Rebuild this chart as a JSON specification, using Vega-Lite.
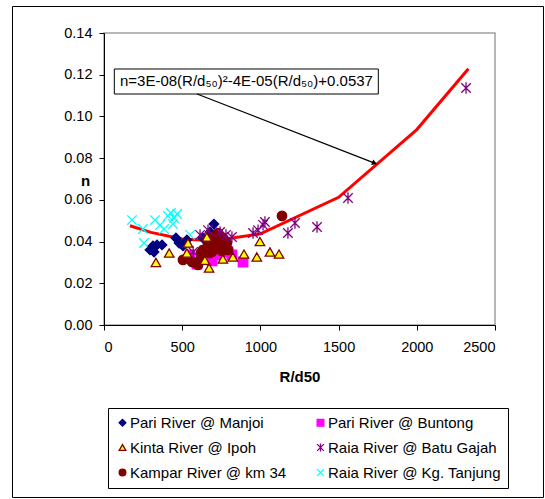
{
  "$schema": "https://vega.github.io/schema/vega-lite/v6.json",
  "width": 391,
  "height": 292,
  "autosize": {"type": "none"},
  "padding": {"left": 104, "top": 33, "right": 50, "bottom": 174},
  "background": "white",
  "config": {
    "font": "Liberation Sans",
    "view": {"stroke": "#a0a0a0", "strokeWidth": 1.5},
    "axis": {"grid": false, "domainColor": "black", "tickColor": "black", "labelColor": "black", "titleColor": "black", "labelFont": "Liberation Sans", "titleFont": "Liberation Sans", "labelFontSize": 14.5, "titleFontSize": 15, "titleFontWeight": "bold", "tickSize": 5}
  },
  "datasets": {
    "points": [
      {"series": "Raia River @ Kg. Tanjung", "R": 179, "n": 0.0503},
      {"series": "Raia River @ Kg. Tanjung", "R": 249, "n": 0.046},
      {"series": "Raia River @ Kg. Tanjung", "R": 256, "n": 0.0393},
      {"series": "Raia River @ Kg. Tanjung", "R": 326, "n": 0.0503},
      {"series": "Raia River @ Kg. Tanjung", "R": 358, "n": 0.0479},
      {"series": "Raia River @ Kg. Tanjung", "R": 384, "n": 0.046},
      {"series": "Raia River @ Kg. Tanjung", "R": 409, "n": 0.0523},
      {"series": "Raia River @ Kg. Tanjung", "R": 428, "n": 0.0537},
      {"series": "Raia River @ Kg. Tanjung", "R": 448, "n": 0.0513},
      {"series": "Raia River @ Kg. Tanjung", "R": 467, "n": 0.0532},
      {"series": "Raia River @ Kg. Tanjung", "R": 441, "n": 0.0484},
      {"series": "Raia River @ Kg. Tanjung", "R": 550, "n": 0.0432},
      {"series": "Pari River @ Manjoi", "R": 294, "n": 0.036},
      {"series": "Pari River @ Manjoi", "R": 313, "n": 0.0379},
      {"series": "Pari River @ Manjoi", "R": 339, "n": 0.0384},
      {"series": "Pari River @ Manjoi", "R": 371, "n": 0.0384},
      {"series": "Pari River @ Manjoi", "R": 320, "n": 0.035},
      {"series": "Pari River @ Manjoi", "R": 460, "n": 0.0417},
      {"series": "Pari River @ Manjoi", "R": 480, "n": 0.0393},
      {"series": "Pari River @ Manjoi", "R": 505, "n": 0.0379},
      {"series": "Pari River @ Manjoi", "R": 530, "n": 0.0408},
      {"series": "Pari River @ Manjoi", "R": 703, "n": 0.0484},
      {"series": "Pari River @ Manjoi", "R": 678, "n": 0.0446},
      {"series": "Pari River @ Manjoi", "R": 633, "n": 0.0417},
      {"series": "Pari River @ Buntong", "R": 595, "n": 0.0292},
      {"series": "Pari River @ Buntong", "R": 646, "n": 0.0321},
      {"series": "Pari River @ Buntong", "R": 691, "n": 0.0307},
      {"series": "Pari River @ Buntong", "R": 729, "n": 0.0336},
      {"series": "Pari River @ Buntong", "R": 793, "n": 0.035},
      {"series": "Pari River @ Buntong", "R": 818, "n": 0.0336},
      {"series": "Pari River @ Buntong", "R": 889, "n": 0.0302},
      {"series": "Pari River @ Buntong", "R": 550, "n": 0.0336},
      {"series": "Kampar River @ km 34", "R": 505, "n": 0.0312},
      {"series": "Kampar River @ km 34", "R": 563, "n": 0.0302},
      {"series": "Kampar River @ km 34", "R": 614, "n": 0.0312},
      {"series": "Kampar River @ km 34", "R": 601, "n": 0.0288},
      {"series": "Kampar River @ km 34", "R": 633, "n": 0.036},
      {"series": "Kampar River @ km 34", "R": 690, "n": 0.035},
      {"series": "Kampar River @ km 34", "R": 665, "n": 0.0393},
      {"series": "Kampar River @ km 34", "R": 710, "n": 0.0393},
      {"series": "Kampar River @ km 34", "R": 729, "n": 0.0441},
      {"series": "Kampar River @ km 34", "R": 742, "n": 0.0374},
      {"series": "Kampar River @ km 34", "R": 786, "n": 0.0393},
      {"series": "Kampar River @ km 34", "R": 793, "n": 0.036},
      {"series": "Kampar River @ km 34", "R": 761, "n": 0.0417},
      {"series": "Kampar River @ km 34", "R": 697, "n": 0.0422},
      {"series": "Kampar River @ km 34", "R": 1138, "n": 0.0523},
      {"series": "Kampar River @ km 34", "R": 754, "n": 0.0355},
      {"series": "Kampar River @ km 34", "R": 620, "n": 0.0345},
      {"series": "Kampar River @ km 34", "R": 675, "n": 0.0345},
      {"series": "Raia River @ Batu Gajah", "R": 570, "n": 0.035},
      {"series": "Raia River @ Batu Gajah", "R": 614, "n": 0.0432},
      {"series": "Raia River @ Batu Gajah", "R": 665, "n": 0.0455},
      {"series": "Raia River @ Batu Gajah", "R": 742, "n": 0.0446},
      {"series": "Raia River @ Batu Gajah", "R": 780, "n": 0.0432},
      {"series": "Raia River @ Batu Gajah", "R": 818, "n": 0.0422},
      {"series": "Raia River @ Batu Gajah", "R": 953, "n": 0.0441},
      {"series": "Raia River @ Batu Gajah", "R": 985, "n": 0.0455},
      {"series": "Raia River @ Batu Gajah", "R": 1017, "n": 0.048},
      {"series": "Raia River @ Batu Gajah", "R": 1029, "n": 0.0494},
      {"series": "Raia River @ Batu Gajah", "R": 1176, "n": 0.0441},
      {"series": "Raia River @ Batu Gajah", "R": 1221, "n": 0.0489},
      {"series": "Raia River @ Batu Gajah", "R": 1362, "n": 0.047},
      {"series": "Raia River @ Batu Gajah", "R": 1560, "n": 0.0609},
      {"series": "Raia River @ Batu Gajah", "R": 2315, "n": 0.1136},
      {"series": "Kinta River @ Ipoh", "R": 332, "n": 0.030},
      {"series": "Kinta River @ Ipoh", "R": 417, "n": 0.0345},
      {"series": "Kinta River @ Ipoh", "R": 537, "n": 0.0393},
      {"series": "Kinta River @ Ipoh", "R": 530, "n": 0.0345},
      {"series": "Kinta River @ Ipoh", "R": 658, "n": 0.0422},
      {"series": "Kinta River @ Ipoh", "R": 645, "n": 0.031},
      {"series": "Kinta River @ Ipoh", "R": 672, "n": 0.0273},
      {"series": "Kinta River @ Ipoh", "R": 760, "n": 0.0316},
      {"series": "Kinta River @ Ipoh", "R": 824, "n": 0.0326},
      {"series": "Kinta River @ Ipoh", "R": 895, "n": 0.034},
      {"series": "Kinta River @ Ipoh", "R": 977, "n": 0.0326},
      {"series": "Kinta River @ Ipoh", "R": 997, "n": 0.040},
      {"series": "Kinta River @ Ipoh", "R": 1061, "n": 0.035},
      {"series": "Kinta River @ Ipoh", "R": 1119, "n": 0.034}
    ],
    "curve": [
      {"R": 166, "n": 0.0476},
      {"R": 300, "n": 0.0444},
      {"R": 500, "n": 0.0412},
      {"R": 700, "n": 0.0404},
      {"R": 1000, "n": 0.0437},
      {"R": 1500, "n": 0.0612},
      {"R": 2000, "n": 0.0937},
      {"R": 2330, "n": 0.1229}
    ]
  },
  "layer": [
    {
      "data": {"values": [{"R": -585, "R2": 2810, "n": 0.1527, "n2": -0.0827}]},
      "mark": {"type": "rect", "fill": "transparent", "stroke": "black", "strokeWidth": 1},
      "encoding": {
        "x": {"field": "R", "type": "quantitative", "scale": {"domain": [0, 2500], "nice": false, "zero": false},
              "axis": {"title": "R/d50", "values": [0, 500, 1000, 1500, 2000, 2500], "format": "d", "labelPadding": 10, "titleBaseline": "alphabetic", "titleY": 56, "titleAnchor": "middle"}},
        "x2": {"field": "R2"},
        "y": {"field": "n", "type": "quantitative", "scale": {"domain": [0, 0.14], "nice": false, "zero": false},
              "axis": {"title": "n", "values": [0, 0.02, 0.04, 0.06, 0.08, 0.1, 0.12, 0.14], "format": ".2f", "labelPadding": 7, "titleAngle": 0, "titleX": -19, "titleY": 147, "titleAlign": "center", "titleBaseline": "middle"}},
        "y2": {"field": "n2"}
      }
    },
    {
      "data": {"name": "curve"},
      "mark": {"type": "line", "color": "#ff0000", "strokeWidth": 3},
      "encoding": {
        "x": {"field": "R", "type": "quantitative"},
        "y": {"field": "n", "type": "quantitative"}
      }
    },
    {
      "data": {"name": "points"},
      "mark": {"type": "point", "size": 90, "strokeWidth": 1.3, "opacity": 1},
      "encoding": {
        "x": {"field": "R", "type": "quantitative"},
        "y": {"field": "n", "type": "quantitative"},
        "shape": {"field": "series", "type": "nominal",
          "scale": {"domain": ["Pari River @ Manjoi", "Kinta River @ Ipoh", "Kampar River @ km 34", "Pari River @ Buntong", "Raia River @ Batu Gajah", "Raia River @ Kg. Tanjung"],
                    "range": ["diamond", "triangle-up", "circle", "square", "M-1,-1L1,1M-1,1L1,-1M0,-1.2L0,1.2", "M-1,-1L1,1M-1,1L1,-1"]},
          "legend": {"title": null, "orient": "none", "legendX": 4, "legendY": 375, "columns": 2, "strokeColor": "black", "fillColor": "white", "padding": 7, "labelFont": "Liberation Sans", "labelFontSize": 15, "labelColor": "black", "symbolSize": 45, "symbolStrokeWidth": 1.3, "columnPadding": 26, "rowPadding": 9, "labelOffset": 0, "labelLimit": 300,
                     "encode": {"symbols": {"update": {"size": {"value": 45}}}}}},
        "fill": {"field": "series", "type": "nominal",
          "scale": {"domain": ["Pari River @ Manjoi", "Kinta River @ Ipoh", "Kampar River @ km 34", "Pari River @ Buntong", "Raia River @ Batu Gajah", "Raia River @ Kg. Tanjung"],
                    "range": ["#000080", "#ffff00", "#800000", "#ff00ff", "transparent", "transparent"]}},
        "stroke": {"field": "series", "type": "nominal",
          "scale": {"domain": ["Pari River @ Manjoi", "Kinta River @ Ipoh", "Kampar River @ km 34", "Pari River @ Buntong", "Raia River @ Batu Gajah", "Raia River @ Kg. Tanjung"],
                    "range": ["#000080", "#800000", "#800000", "#ff00ff", "#800080", "#00ffff"]}}
      }
    },
    {
      "data": {"values": [{"R": 66, "R2": 1754, "n": 0.12274, "n2": 0.11075}]},
      "mark": {"type": "rect", "fill": "white", "stroke": "black", "strokeWidth": 1},
      "encoding": {
        "x": {"field": "R", "type": "quantitative"},
        "x2": {"field": "R2"},
        "y": {"field": "n", "type": "quantitative"},
        "y2": {"field": "n2"}
      }
    },
    {
      "data": {"values": [{"R": 102, "n": 0.11675, "label": "n=3E-08(R/d₅₀)²-4E-05(R/d₅₀)+0.0537"}]},
      "mark": {"type": "text", "align": "left", "baseline": "middle", "font": "Liberation Sans", "fontSize": 15, "color": "black"},
      "encoding": {
        "x": {"field": "R", "type": "quantitative"},
        "y": {"field": "n", "type": "quantitative"},
        "text": {"field": "label"}
      }
    },
    {
      "data": {"values": [{"R": 595, "n": 0.11075, "R2": 1730, "n2": 0.0776}]},
      "mark": {"type": "rule", "color": "black", "strokeWidth": 1.2},
      "encoding": {
        "x": {"field": "R", "type": "quantitative"},
        "x2": {"field": "R2"},
        "y": {"field": "n", "type": "quantitative"},
        "y2": {"field": "n2"}
      }
    },
    {
      "data": {"values": [{"R": 1730, "n": 0.0776}]},
      "mark": {"type": "point", "shape": "triangle-right", "angle": 21, "size": 35, "filled": true, "color": "black", "opacity": 1},
      "encoding": {
        "x": {"field": "R", "type": "quantitative"},
        "y": {"field": "n", "type": "quantitative"}
      }
    }
  ]
}
